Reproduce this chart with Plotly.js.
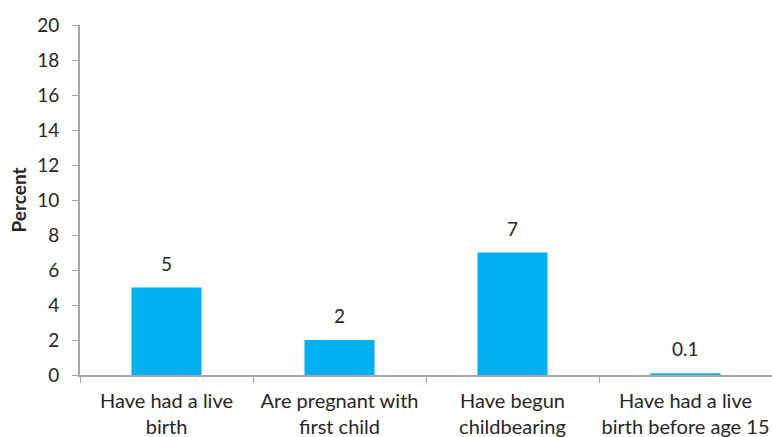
<!DOCTYPE html>
<html>
<head>
<meta charset="utf-8">
<script src="https://cdn.plot.ly/plotly-3.0.1.min.js"></script>
<style>
  html, body { margin: 0; padding: 0; background: #fff; }
  #chart { width: 772px; height: 437px; }
</style>
</head>
<body>
<div id="chart"></div>
<script>
// Share of women by fertility milestone
const categories = [
  'Have had a live<br>birth',
  'Are pregnant with<br>first child',
  'Have begun<br>childbearing',
  'Have had a live<br>birth before age 15'
];
const percentValues = [5, 2, 7, 0.1];
const valueLabels = ['5', '2', '7', '0.1'];
const yTickValues = [0, 2, 4, 6, 8, 10, 12, 14, 16, 18, 20];

const fontFamily = 'Lato, "Open Sans", sans-serif';
const textColor = '#262626';
const axisColor = '#A6A6A6';

const bars = {
  type: 'bar',
  x: categories,
  y: percentValues,
  marker: { color: '#00B0F0' },
  width: 0.405,
  hoverinfo: 'skip'
};

const annotations = categories.map((c, i) => ({
  x: c,
  y: percentValues[i],
  xref: 'x',
  yref: 'y',
  text: valueLabels[i],
  showarrow: false,
  yanchor: 'bottom',
  yshift: 11,
  font: { family: fontFamily, size: 19, color: textColor }
}));

const layout = {
  width: 772,
  height: 437,
  margin: { l: 80, r: 0, t: 25, b: 62 },
  paper_bgcolor: '#ffffff',
  plot_bgcolor: '#ffffff',
  showlegend: false,
  font: { family: fontFamily, size: 20, color: textColor },
  xaxis: {
    type: 'category',
    showline: true,
    linecolor: axisColor,
    linewidth: 2,
    ticks: 'outside',
    tickson: 'boundaries',
    ticklen: 6,
    tickcolor: axisColor,
    tickwidth: 1,
    tickangle: 0,
    ticklabelstandoff: 7,
    showgrid: false,
    zeroline: false,
    tickfont: { family: fontFamily, size: 20, color: textColor }
  },
  yaxis: {
    range: [0, 20],
    tickvals: yTickValues,
    ticktext: yTickValues.map(String),
    showline: true,
    linecolor: axisColor,
    linewidth: 2,
    ticks: 'outside',
    ticklen: 6,
    tickcolor: axisColor,
    tickwidth: 1,
    ticklabelstandoff: 9,
    showgrid: false,
    zeroline: false,
    tickfont: { family: fontFamily, size: 19, color: textColor },
    title: {
      text: '<b>Percent</b>',
      font: { family: fontFamily, size: 19, color: textColor },
      standoff: 6
    }
  },
  annotations: annotations
};

Plotly.newPlot('chart', [bars], layout, { displayModeBar: false, staticPlot: true });
</script>
</body>
</html>
